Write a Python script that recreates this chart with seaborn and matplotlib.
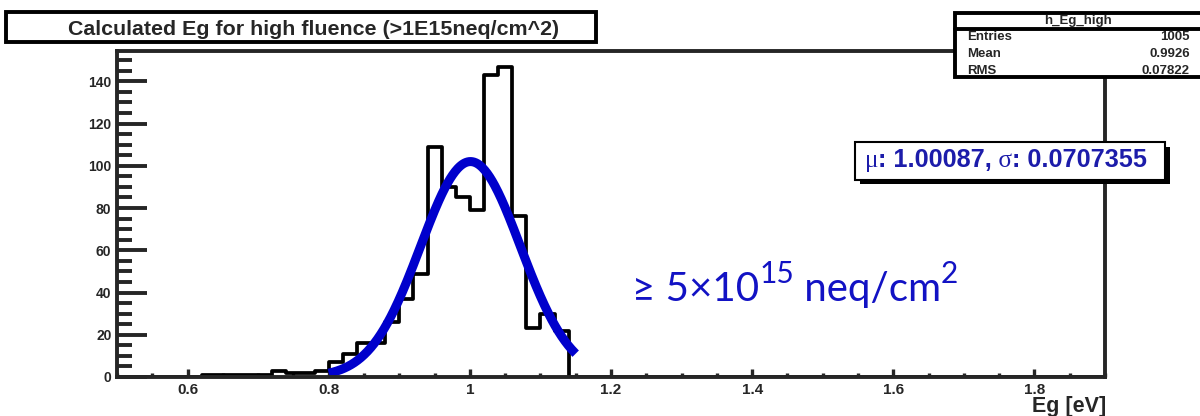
import numpy as np
import matplotlib
matplotlib.use("Agg")
import matplotlib.pyplot as plt
from matplotlib.patches import Rectangle
from matplotlib.lines import Line2D
from matplotlib.text import Annotation
from matplotlib.ticker import MultipleLocator, FuncFormatter
import seaborn as sns

# histogram contents (0.02 eV bins, centres of non-empty bins)
eg_centres = [0.63, 0.65, 0.67, 0.69, 0.71, 0.73, 0.75, 0.77, 0.79,
              0.81, 0.83, 0.85, 0.87, 0.89, 0.91, 0.93, 0.95, 0.97, 0.99,
              1.01, 1.03, 1.05, 1.07, 1.09, 1.11, 1.13]
eg_counts = [1, 1, 1, 1, 1, 3, 2, 2, 3,
             7, 11, 16, 16, 26, 37, 49, 109, 90, 85,
             79, 143, 147, 76, 23, 30, 22]
hist_range = (0.5, 1.9)
n_bins = 70

# gaussian fit shown on the plot
fit_mu = 1.00087
fit_sigma = 0.0707355
fit_const = 102.0
fit_range = (0.80, 1.15)

title = "Calculated Eg for high fluence (>1E15neq/cm^2)"
x_title = "Eg [eV]"
stats_name = "h_Eg_high"
stats_labels = ["Entries", "Mean", "RMS"]
stats_values = ["1005", "0.9926", "0.07822"]

sns.set_style("ticks")
plt.rcParams["font.family"] = ["Liberation Sans", "DejaVu Sans"]
plt.rcParams["font.weight"] = "bold"

W, H = 1200, 416
fig = plt.figure(figsize=(12, 4.16), dpi=100)


def fx(x):
    return x / W


def fy(y):
    return 1 - y / H


ax = fig.add_axes([fx(117), fy(377), fx(1105) - fx(117), fy(51) - fy(377)])

sns.histplot(x=eg_centres, weights=eg_counts, bins=n_bins, binrange=hist_range,
             element="step", fill=False, color="black", linewidth=2.7, ax=ax)

xs = np.linspace(fit_range[0], fit_range[1], 300)
ys = fit_const * np.exp(-0.5 * ((xs - fit_mu) / fit_sigma) ** 2)
sns.lineplot(x=xs, y=ys, color="#0000cc", linewidth=6.5, solid_capstyle="butt", ax=ax)

ax.set_xlim(*hist_range)
ax.set_ylim(0, max(eg_counts) * 1.05)
ax.set_xlabel("")
ax.set_ylabel("")

ax.xaxis.set_major_locator(MultipleLocator(0.2))
ax.xaxis.set_minor_locator(MultipleLocator(0.05))
ax.xaxis.set_major_formatter(FuncFormatter(lambda v, p: f"{v:g}"))
ax.yaxis.set_major_locator(MultipleLocator(20))
ax.yaxis.set_minor_locator(MultipleLocator(5))
ax.yaxis.set_major_formatter(FuncFormatter(lambda v, p: f"{v:.0f}"))

ax.tick_params(axis="x", which="major", direction="in", length=6, width=2.4, labelsize=11, pad=4)
ax.tick_params(axis="x", which="minor", direction="in", length=3, width=2.4)
ax.tick_params(axis="y", which="major", direction="in", length=21.5, width=2.8, labelsize=10, pad=4)
ax.tick_params(axis="y", which="minor", direction="in", length=10.8, width=2.8)
for s in ax.spines.values():
    s.set_linewidth(2.8)
    s.set_visible(True)

# title box
fig.add_artist(Rectangle((fx(6), fy(42)), fx(596) - fx(6), fy(12) - fy(42),
                         transform=fig.transFigure, facecolor="white", edgecolor="black", lw=2.8))
fig.text(fx(68), fy(35), title, fontsize=15.4, fontweight="bold", va="baseline")

# stats box
fig.add_artist(Rectangle((fx(955), fy(77)), fx(1215) - fx(955), fy(13) - fy(77),
                         transform=fig.transFigure, facecolor="white", edgecolor="black", lw=2.8))
fig.add_artist(Line2D([fx(955), fx(1200)], [fy(28.5), fy(28.5)], transform=fig.transFigure,
                      color="black", lw=2.8))
fig.text(fx(1078), fy(24), stats_name, fontsize=9.5, ha="center", va="baseline")
for i, (lab, val) in enumerate(zip(stats_labels, stats_values)):
    yb = 40.5 + i * 16.5
    fig.text(fx(967), fy(yb), lab, fontsize=9.5, ha="left", va="baseline")
    fig.text(fx(1190), fy(yb), val, fontsize=9.5, ha="right", va="baseline")


def chain(pieces, x0):
    prev = None
    for s, yb, kw in pieces:
        if prev is None:
            prev = fig.text(fx(x0), fy(yb), s, va="baseline", ha="left", zorder=5, **kw)
        else:
            a = Annotation(s, xy=(1, fy(yb)), xycoords=(prev, "figure fraction"),
                           va="baseline", ha="left", annotation_clip=False, zorder=5, **kw)
            fig.add_artist(a)
            prev = a


# fit result box
fig.add_artist(Rectangle((fx(860), fy(184)), fx(1170) - fx(860), fy(147) - fy(184),
                         transform=fig.transFigure, facecolor="black", edgecolor="black", lw=0))
fig.add_artist(Rectangle((fx(855), fy(180)), fx(1165) - fx(855), fy(142) - fy(180),
                         transform=fig.transFigure, facecolor="white", edgecolor="black", lw=1.5))
fit_col = "#1c1caa"
serif = dict(family=["Liberation Serif", "DejaVu Serif"], fontweight="normal", fontsize=18.2, color=fit_col)
sans = dict(family=["Liberation Sans", "DejaVu Sans"], fontweight="bold", fontsize=18.2, color=fit_col)
chain([("\u03bc", 167, serif),
       (f": {fit_mu:.5f},", 167, sans),
       (" \u03c3", 167, serif),
       (f": {fit_sigma:.7f}", 167, sans)], 865)

# fluence annotation
ann_col = "#1212c4"
big = dict(family=["Lato", "DejaVu Sans"], fontweight="normal", fontsize=29, color=ann_col)
small = dict(family=["Lato", "DejaVu Sans"], fontweight="normal", fontsize=21.5, color=ann_col)
chain([("\u2265 5\u00d710", 301, big),
       ("15", 283, small),
       (" neq/cm", 301, big),
       ("2", 283, small)], 632)

fig.text(fx(1106), fy(412), x_title, fontsize=15.5, fontweight="bold", ha="right", va="baseline")

fig.savefig("out.png", dpi=100)
